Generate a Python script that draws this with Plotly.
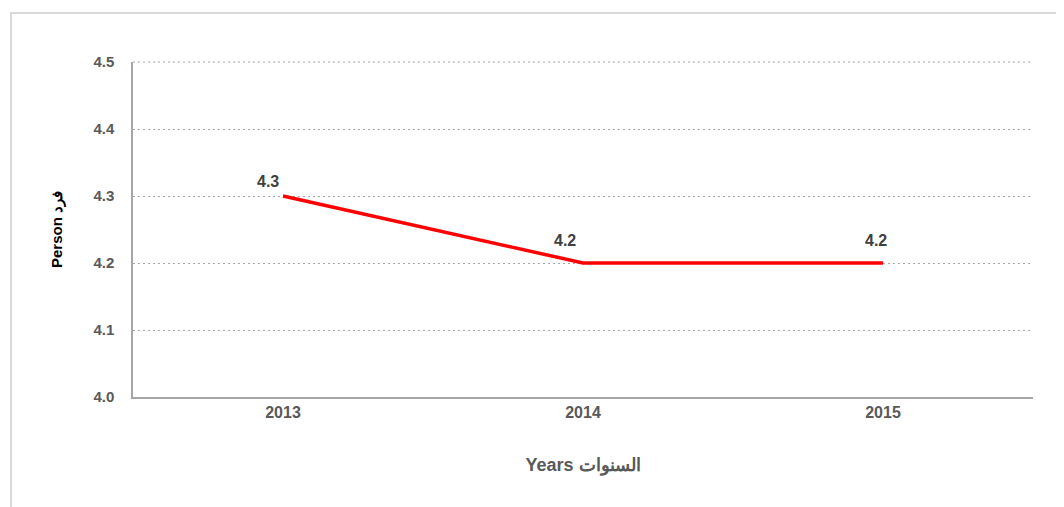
import plotly.graph_objects as go

years = ["2013", "2014", "2015"]
values = [4.3, 4.2, 4.2]
labels = ["4.3", "4.2", "4.2"]
label_xshift = [-15, -18, -7]
label_yshift = [15, 23, 23]
y_ticks = [4.0, 4.1, 4.2, 4.3, 4.4, 4.5]
y_ticklabels = ["4.0", "4.1", "4.2", "4.3", "4.4", "4.5"]

fig = go.Figure()
fig.add_trace(go.Scatter(
    x=years, y=values, mode="lines",
    line=dict(color="#ff0000", width=3.5),
    hoverinfo="skip", showlegend=False,
))

for i, (yv, t, sx, sy) in enumerate(zip(values, labels, label_xshift, label_yshift)):
    fig.add_annotation(x=i, y=yv, xref="x", yref="y", text=t, showarrow=False,
                       xshift=sx, yshift=sy,
                       font=dict(family="Liberation Sans", size=16, color="#404040", weight="bold"))

fig.add_shape(type="rect", xref="paper", yref="paper",
              x0=-0.1355, x1=1.06, y0=-0.4, y1=1.146,
              line=dict(color="#d9d9d9", width=2), layer="below")
# top gridline (at the upper edge of the range)
fig.add_shape(type="line", xref="paper", yref="paper",
              x0=0, x1=1, y0=1, y1=1,
              line=dict(color="#a6a6a6", width=1.2, dash="2px,3px"))

fig.update_layout(
    width=1064, height=507,
    margin=dict(l=125, r=39, t=54, b=118),
    paper_bgcolor="white", plot_bgcolor="white",
    font=dict(family="Liberation Sans", size=16, color="#595959"),
    xaxis=dict(
        type="category", range=[-0.5, 2.5],
        showgrid=False, showline=True, linecolor="#a6a6a6", linewidth=1.5,
        ticks="", tickfont=dict(size=16, color="#595959", weight="bold"),
        title=dict(text="Years السنوات", font=dict(size=18, color="#595959", weight="bold"), standoff=38),
        zeroline=False,
    ),
    yaxis=dict(
        range=[4.0, 4.5], tickvals=y_ticks, ticktext=y_ticklabels,
        showgrid=True, gridcolor="#a6a6a6", griddash="2px,3px", gridwidth=1.2,
        showline=True, linecolor="#a6a6a6", linewidth=1.5,
        ticks="", ticklabelstandoff=14,
        tickfont=dict(size=15, color="#595959", weight="bold"),
        title=dict(text="Person فرد", font=dict(size=15, color="#000000", weight="bold"), standoff=27),
        zeroline=False,
    ),
)

fig.write_html("out.html")
